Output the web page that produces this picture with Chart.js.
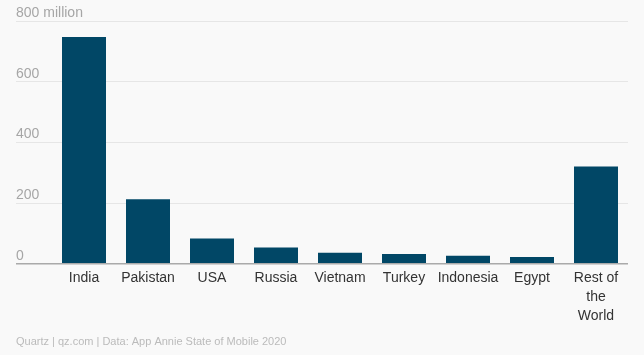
<!DOCTYPE html>
<html>
<head>
<meta charset="utf-8">
<script src="https://cdn.jsdelivr.net/npm/chart.js@4"></script>
<style>
html,body{margin:0;padding:0;background:#f9f9f9;}
#wrap{width:644px;height:355px;position:relative;}
</style>
</head>
<body>
<div id="wrap"><canvas id="c" width="644" height="355"></canvas></div>
<script>
const categories = ["India","Pakistan","USA","Russia","Vietnam","Turkey","Indonesia","Egypt",["Rest of","the","World"]];
const downloads = [747, 212, 83, 53, 36, 32, 26, 22, 320];
const yTicks = [0, 200, 400, 600, 800];
const sourceText = "Quartz | qz.com | Data: App Annie State of Mobile 2020";

const font = "'Liberation Sans', Helvetica, Arial, sans-serif";

new Chart(document.getElementById('c'), {
  type: 'bar',
  data: {
    labels: categories,
    datasets: [{
      data: downloads,
      backgroundColor: '#014766',
      barPercentage: 0.6875,
      categoryPercentage: 1.0
    }]
  },
  options: {
    responsive: false,
    animation: false,
    layout: { padding: { left: 16, right: 16, top: 21, bottom: 0 } },
    plugins: {
      legend: { display: false },
      tooltip: { enabled: false },
      title: {
        display: true,
        position: 'bottom',
        align: 'start',
        text: sourceText,
        color: '#bbbbbb',
        font: { family: font, size: 11, weight: 'normal' },
        padding: { top: 5, bottom: 6 }
      }
    },
    scales: {
      x: {
        grid: { display: false, drawTicks: false },
        border: { display: false },
        ticks: {
          color: '#333333',
          font: { family: font, size: 14, lineHeight: 1.36 },
          padding: 5,
          maxRotation: 0,
          autoSkip: false
        }
      },
      y: {
        min: 0,
        max: 800,
        afterFit: (s) => { s.width = 36; },
        afterBuildTicks: (s) => { s.ticks = yTicks.map(v => ({ value: v })); },
        border: { display: false },
        grid: {
          drawTicks: true,
          tickLength: 36,
          lineWidth: (ctx) => (ctx.tick && ctx.tick.value === 0 ? 1.5 : 1),
          color: (ctx) => (ctx.tick && ctx.tick.value === 0 ? '#aaaaaa' : '#e6e6e6')
        },
        ticks: {
          mirror: true,
          crossAlign: 'near',
          labelOffset: -8,
          padding: -36,
          color: '#a6a6a6',
          font: { family: font, size: 14 },
          callback: (v) => (v === 800 ? '800 million' : String(v))
        }
      }
    }
  }
});
</script>
</body>
</html>
